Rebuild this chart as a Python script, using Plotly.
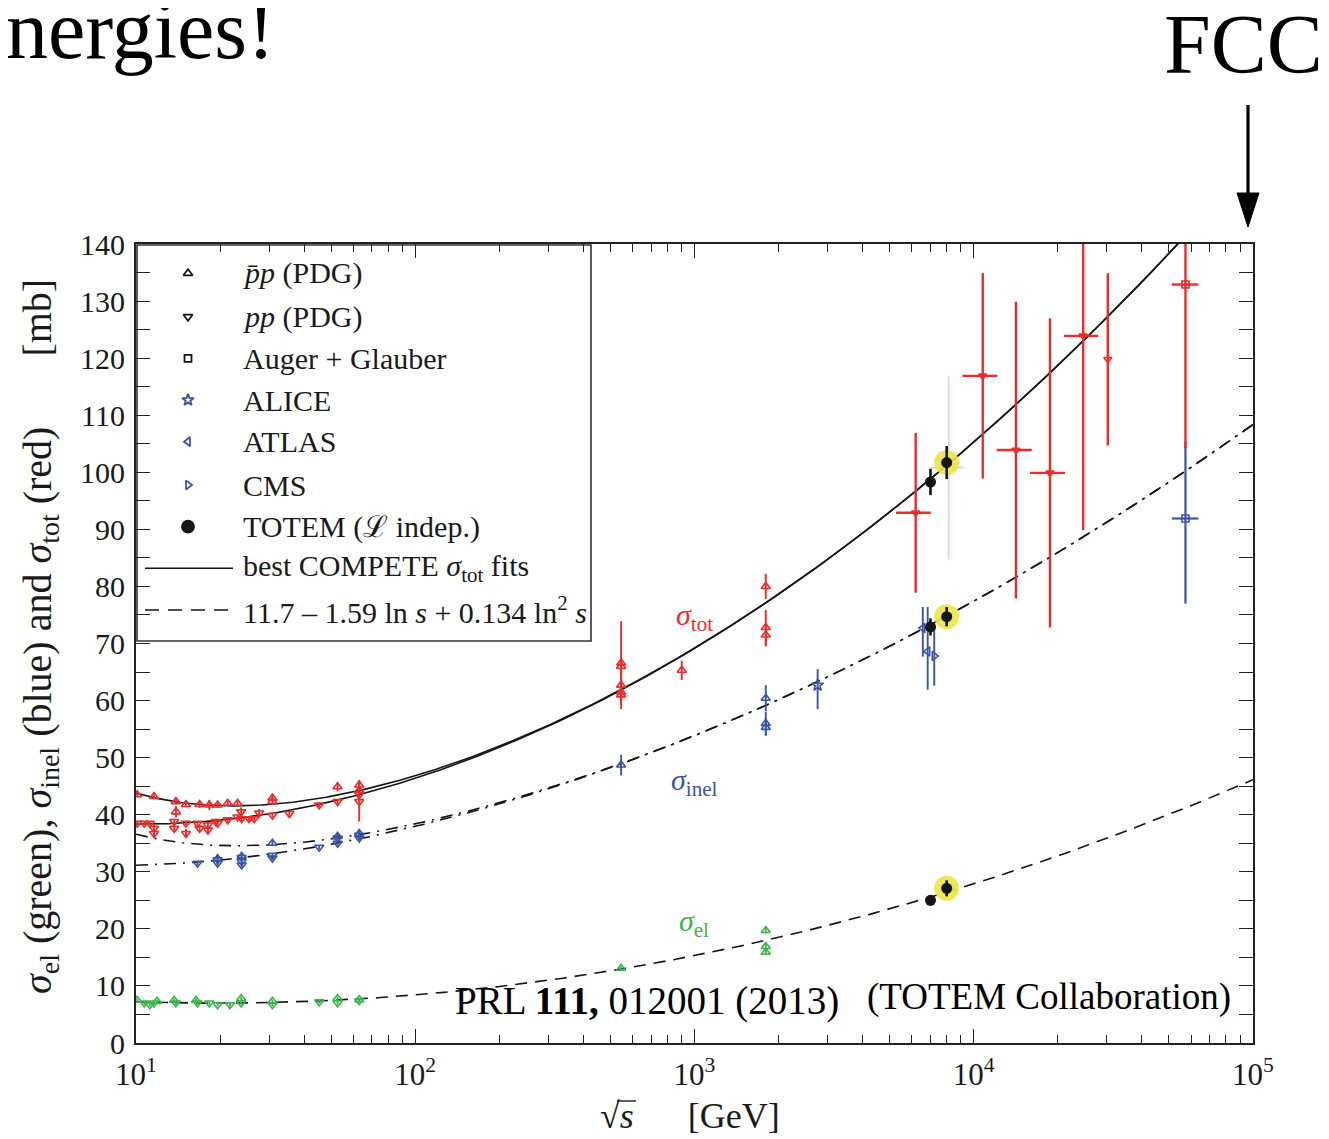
import numpy as np
import plotly.graph_objects as go

# ---------------------------------------------------------------- data
# sigma_tot (red)  -- pbar-p (PDG, up triangles)
TOT_PBARP_X = [10.1, 11.6, 13.9, 13.9, 15.1, 16.9, 18.3, 19.6, 21.3, 23.1, 30.8, 30.8,
               52.7, 63.0, 63.0, 546, 546, 546, 546, 546, 900, 1800, 1800, 1800]
TOT_PBARP_Y = [43.5, 43.2, 42.3, 40.5, 41.8, 41.8, 41.7, 41.7, 42.0, 42.0, 42.9, 42.3,
               44.9, 45.2, 44.3, 66.6, 66.0, 62.7, 61.5, 61.0, 65.3, 80.0, 72.8, 71.5]
TOT_PBARP_E = [0.4, 0.4, 0.5, 1.0, 0.4, 0.6, 0.9, 0.5, 0.4, 0.4, 0.5, 0.5,
               0.8, 0.9, 0.8, 7.3, 1.5, 1.5, 1.4, 2.5, 1.7, 2.2, 3.1, 2.0]
# sigma_tot (red)  -- pp (PDG, down triangles), accelerator energies
TOT_PP_X = [10.1, 10.7, 11.2, 11.6, 11.6, 13.7, 13.7, 15.1, 15.1, 16.6, 16.9, 18.1, 18.1, 19.3,
            19.6, 21.3, 23.1, 23.8, 23.9, 25.4, 26.5, 27.6, 30.8, 35.4, 45.3, 52.7, 63.0, 63.0]
TOT_PP_Y = [38.5, 38.5, 38.5, 37.6, 36.7, 38.8, 37.6, 38.5, 36.7, 38.5, 37.6, 38.2, 37.3, 38.8,
            38.5, 39.1, 39.6, 40.5, 39.3, 39.3, 39.3, 40.3, 39.9, 40.2, 41.7, 42.3, 43.5, 42.3]
TOT_PP_E = [0.4, 0.4, 0.4, 0.6, 0.8, 0.5, 0.6, 0.4, 0.8, 0.4, 0.6, 0.5, 0.6, 0.5,
            0.4, 0.4, 0.4, 0.8, 0.5, 0.4, 0.4, 0.7, 0.4, 0.4, 0.4, 0.4, 0.5, 3.5]
# sigma_tot (red)  -- pp from cosmic rays (down triangles with energy ranges)
CR_X = [6195, 10770, 14160, 18750, 24660, 30200]
CR_Y = [92.9, 116.9, 103.9, 99.9, 123.9, 119.8]
CR_EY = [14.0, 18.0, 26.0, 27.1, 34.0, 15.1]
CR_XLO = [5268, 9120, 12080, 15900, 21040, 30200]
CR_XHI = [7015, 12140, 16130, 21230, 27900, 30200]
# faint extra sigma_tot bar at 8 TeV
FAINT_X = [8150]
FAINT_Y = [100.8]
FAINT_E = [16.0]
FAINT_XLO = [6966]
FAINT_XHI = [9155]

# Auger + Glauber
AUGER_X = [57300]
AUGER_XLO = [51200]
AUGER_XHI = [63700]
AUGER_TOT = [132.9]
AUGER_TOT_EP = [30.0]
AUGER_TOT_EM = [28.7]
AUGER_INEL = [91.9]
AUGER_INEL_EP = [13.5]
AUGER_INEL_EM = [14.9]

# TOTEM (luminosity independent)
TOTEM_X = [7000, 8000]
TOTEM_TOT = [98.3, 101.7]
TOTEM_TOT_E = [2.3, 2.9]
TOTEM_INEL = [72.9, 74.7]
TOTEM_INEL_E = [1.5, 1.7]
TOTEM_EL = [25.0, 27.1]
TOTEM_EL_E = [0.9, 1.4]

# sigma_inel (blue)
INEL_PP_X = [16.6, 19.6, 19.6, 23.9, 23.9, 23.9, 30.8, 30.8, 45.3, 52.7, 52.7, 63.0, 63.0]
INEL_PP_Y = [31.5, 32.1, 31.5, 32.5, 31.8, 31.2, 32.9, 32.4, 34.3, 35.9, 35.0, 36.4, 35.9]
INEL_PBARP_X = [19.6, 23.9, 30.8, 52.7, 63.0, 546, 1800, 1800, 1800]
INEL_PBARP_Y = [32.3, 32.7, 35.0, 36.2, 36.7, 48.7, 60.4, 56.0, 55.3]
INEL_PBARP_E = [0.5, 0.6, 0.5, 0.5, 0.5, 1.8, 2.3, 2.0, 1.5]
ALICE_X = [2760]
ALICE_Y = [62.7]
ALICE_EP = [2.8]
ALICE_EM = [4.2]
ATLAS_X = [6570, 6840]
ATLAS_Y = [72.7, 68.6]
ATLAS_EP = [3.7, 7.8]
ATLAS_EM = [5.0, 6.7]
CMS_X = [7220]
CMS_Y = [67.8]
CMS_E = [5.2]

# sigma_el (green)
EL_PBARP_X = [10.1, 11.9, 13.7, 16.4, 23.8, 30.8, 52.7, 63.0, 546, 1800, 1800, 1800]
EL_PBARP_Y = [7.5, 7.3, 7.5, 7.5, 7.8, 7.3, 7.8, 7.6, 13.1, 19.7, 16.9, 15.9]
EL_PBARP_E = [0.3, 0.3, 0.3, 0.3, 0.3, 0.3, 0.3, 0.3, 0.3, 0.5, 0.6, 0.5]
EL_PP_X = [10.7, 11.2, 11.6, 13.9, 16.6, 18.3, 19.6, 21.7, 23.8, 30.8, 45.3, 52.7, 63.0]
EL_PP_Y = [7.0, 6.7, 7.0, 7.0, 7.0, 7.0, 6.7, 6.7, 7.0, 6.7, 7.2, 7.0, 7.4]

# fit parameters: COMPETE sigma_tot fit, elastic fit from the legend
Z_TOT, B_TOT, S0 = 35.45, 0.308, 28.94
Y1, ETA1, Y2, ETA2 = 42.53, 0.458, 33.34, 0.545
EL_C0, EL_C1, EL_C2 = 11.7, -1.59, 0.134

X_TICKS = [10, 100, 1000, 10000, 100000]
X_TICK_TEXT = ['10<sup>1</sup>', '10<sup>2</sup>', '10<sup>3</sup>', '10<sup>4</sup>', '10<sup>5</sup>']

LEGEND_LABELS = ['<i>p̄p</i> (PDG)', '<i>pp</i> (PDG)', 'Auger + Glauber', 'ALICE', 'ATLAS', 'CMS',
                 'TOTEM (ℒ indep.)', 'best COMPETE <i>σ</i><sub>tot</sub> fits',
                 '11.7 – 1.59 ln <i>s</i> + 0.134 ln<sup>2</sup> <i>s</i>']

# ---------------------------------------------------------------- style
RED, BLUE, GREEN, BLACK = '#EE2B2B', '#3A55A6', '#3CB44B', '#151515'
YELLOW = 'rgba(236,229,70,0.9)'
SERIF = 'Liberation Serif'
OFF = 8                      # page body margin of the html page
W, H = 1329 - OFF, 1139 - OFF
ML, MT = 136 - OFF, 244 - OFF
MR = W - (1253 - OFF)
MB = H - (1043 - OFF)
PW, PH = W - ML - MR, H - MT - MB


def pxx(p):
    """page pixel x -> paper coordinate"""
    return (p - OFF - ML) / PW


def pyy(p):
    """page pixel y -> paper coordinate"""
    return (H - MB - (p - OFF)) / PH


# ---------------------------------------------------------------- curves
sq = np.logspace(1, 5, 600)
s = sq ** 2
L = np.log(s)
core = Z_TOT + B_TOT * np.log(s / S0) ** 2 + Y1 * s ** (-ETA1)
tot_pbarp = core + Y2 * s ** (-ETA2)
tot_pp = core - Y2 * s ** (-ETA2)
sig_el = EL_C0 + EL_C1 * L + EL_C2 * L ** 2
inel_pbarp = tot_pbarp - sig_el
inel_pp = tot_pp - sig_el

fig = go.Figure()


def line(y, dash, width=1.6):
    fig.add_trace(go.Scatter(x=sq, y=y, mode='lines', line=dict(color=BLACK, width=width, dash=dash),
                             showlegend=False, hoverinfo='skip'))


line(tot_pbarp, 'solid')
line(tot_pp, 'solid')
line(inel_pbarp, '12px,7px,2px,7px')
line(inel_pp, '12px,7px,2px,7px')
line(sig_el, '12px,8px')


def pts(x, y, sym, color, ep=None, em=None, size=8, xlo=None, xhi=None, lw=1.6, eth=1.9, mcolor=None):
    kw = {}
    if ep is not None:
        kw['error_y'] = dict(type='data', array=ep, arrayminus=em if em is not None else ep,
                             thickness=eth, width=0, color=color)
    if xlo is not None:
        kw['error_x'] = dict(type='data', array=[h - v for h, v in zip(xhi, x)],
                             arrayminus=[v - l for v, l in zip(x, xlo)],
                             thickness=eth, width=0, color=color)
    mc = mcolor if mcolor is not None else color
    fig.add_trace(go.Scatter(x=x, y=y, mode='markers',
                             marker=dict(symbol=sym, size=size, color=mc, line=dict(color=mc, width=lw)),
                             showlegend=False, hoverinfo='skip', **kw))


# faint bar
pts(FAINT_X, FAINT_Y, 'circle', 'rgba(240,90,90,0.45)', ep=FAINT_E, xlo=FAINT_XLO, xhi=FAINT_XHI,
    size=1, eth=1.2, mcolor='rgba(0,0,0,0)')

# green
pts(EL_PP_X, EL_PP_Y, 'triangle-down-open', GREEN, ep=[0.3] * len(EL_PP_X))
pts(EL_PBARP_X, EL_PBARP_Y, 'triangle-up-open', GREEN, ep=EL_PBARP_E)
# blue
pts(INEL_PP_X, INEL_PP_Y, 'triangle-down-open', BLUE, ep=[0.4] * len(INEL_PP_X))
pts(INEL_PBARP_X, INEL_PBARP_Y, 'triangle-up-open', BLUE, ep=INEL_PBARP_E)
pts(ALICE_X, ALICE_Y, 'star-open', BLUE, ep=ALICE_EP, em=ALICE_EM, size=9)
pts(ATLAS_X, ATLAS_Y, 'triangle-left-open', BLUE, ep=ATLAS_EP, em=ATLAS_EM)
pts(CMS_X, CMS_Y, 'triangle-right-open', BLUE, ep=CMS_E)
pts(AUGER_X, AUGER_INEL, 'square-open', BLUE, ep=AUGER_INEL_EP, em=AUGER_INEL_EM,
    xlo=AUGER_XLO, xhi=AUGER_XHI, size=7, eth=2.2)
# red
pts(TOT_PP_X, TOT_PP_Y, 'triangle-down-open', RED, ep=TOT_PP_E)
pts(TOT_PBARP_X, TOT_PBARP_Y, 'triangle-up-open', RED, ep=TOT_PBARP_E)
pts(CR_X, CR_Y, 'triangle-down-open', RED, ep=CR_EY, xlo=CR_XLO, xhi=CR_XHI, size=7, eth=2.4)
pts(AUGER_X, AUGER_TOT, 'square-open', RED, ep=AUGER_TOT_EP, em=AUGER_TOT_EM,
    xlo=AUGER_XLO, xhi=AUGER_XHI, size=7, eth=2.4)

# TOTEM: yellow halo on the 8 TeV points, then black dots
halo_x = [TOTEM_X[1]] * 3
halo_y = [TOTEM_TOT[1], TOTEM_INEL[1], TOTEM_EL[1]]
fig.add_trace(go.Scatter(x=halo_x, y=halo_y, mode='markers',
                         marker=dict(symbol='circle', size=25, color=YELLOW, line=dict(width=0)),
                         showlegend=False, hoverinfo='skip'))
pts(TOTEM_X, TOTEM_TOT, 'circle', BLACK, ep=TOTEM_TOT_E, size=11, eth=2.6, lw=0)
pts(TOTEM_X, TOTEM_INEL, 'circle', BLACK, ep=TOTEM_INEL_E, size=11, eth=2.6, lw=0)
pts(TOTEM_X, TOTEM_EL, 'circle', BLACK, ep=TOTEM_EL_E, size=11, eth=2.6, lw=0)

# ---------------------------------------------------------------- custom legend
LEG_X = pxx(188)
LEG_ROWS = [273.3, 316.7, 358.3, 400.0, 441.7, 485.0, 526.7, 568.3, 610.0]
leg_syms = [('triangle-up-open', BLACK, 8), ('triangle-down-open', BLACK, 8), ('square-open', BLACK, 7),
            ('star-open', BLUE, 9), ('triangle-left-open', BLUE, 8), ('triangle-right-open', BLUE, 8),
            ('circle', BLACK, 12)]
for (sym, col, sz), row in zip(leg_syms, LEG_ROWS):
    fig.add_trace(go.Scatter(x=[LEG_X], y=[pyy(row)], xaxis='x2', yaxis='y2', mode='markers',
                             marker=dict(symbol=sym, size=sz, color=col, line=dict(color=col, width=1.8)),
                             showlegend=False, hoverinfo='skip'))

shapes = []
shapes.append(dict(type='rect', xref='paper', yref='paper', x0=pxx(137), x1=pxx(591), y0=pyy(641), y1=pyy(245),
                   line=dict(color='#333333', width=1.6), fillcolor='white', layer='below'))
shapes.append(dict(type='line', xref='paper', yref='paper', x0=pxx(145), x1=pxx(233), y0=pyy(LEG_ROWS[7]),
                   y1=pyy(LEG_ROWS[7]), line=dict(color=BLACK, width=1.6)))
shapes.append(dict(type='line', xref='paper', yref='paper', x0=pxx(145), x1=pxx(233), y0=pyy(LEG_ROWS[8]),
                   y1=pyy(LEG_ROWS[8]), line=dict(color=BLACK, width=1.6, dash='14px,9px')))
# FCC arrow
shapes.append(dict(type='line', xref='paper', yref='paper', x0=pxx(1248), x1=pxx(1248), y0=pyy(105), y1=pyy(200),
                   line=dict(color='black', width=3.2)))
shapes.append(dict(type='path', xref='paper', yref='paper',
                   path=f'M {pxx(1237)} {pyy(193)} L {pxx(1259)} {pyy(193)} L {pxx(1248)} {pyy(227)} Z',
                   fillcolor='black', line=dict(color='black', width=1)))
# overline of the square root in the x title
shapes.append(dict(type='line', xref='paper', yref='paper', x0=pxx(617), x1=pxx(636), y0=pyy(1101),
                   y1=pyy(1101), line=dict(color='#1a1a1a', width=1.4)))


def text(t, xp, yp, size, color='#1a1a1a', xa='center', ya='middle', **kw):
    return dict(text=t, x=pxx(xp), y=pyy(yp), xref='paper', yref='paper', showarrow=False,
                xanchor=xa, yanchor=ya, font=dict(family=SERIF, size=size, color=color), **kw)


ann = []
for lab, row in zip(LEGEND_LABELS, LEG_ROWS):
    ann.append(text(lab, 241, row, 30, xa='left'))

ann.append(text('<i>σ</i><sub>tot</sub>', 694, 617, 30, RED))
ann.append(text('<i>σ</i><sub>inel</sub>', 694, 782, 30, BLUE))
ann.append(text('<i>σ</i><sub>el</sub>', 694, 923, 30, GREEN))
ann.append(text('PRL <b>111,</b> 012001 (2013)', 647, 1001, 39, 'black'))
ann.append(text('(TOTEM Collaboration)', 1049, 997, 37, 'black'))
ann.append(text('<i>σ</i><sub>el</sub> (green), <i>σ</i><sub>inel</sub> (blue) and <i>σ</i><sub>tot</sub> (red)'
                '\u00a0\u00a0\u00a0\u00a0\u00a0\u00a0\u00a0[mb]',
                40, 637, 40, textangle=-90))
ann.append(text('√<i>s</i>\u00a0\u00a0\u00a0\u00a0\u00a0\u00a0[GeV]', 690, 1116, 36))
ann.append(text('FCC', 1243, 44, 84, 'black'))
ann.append(text('nergies!', 4, 29, 84, 'black', xa='left'))

MINOR_X = [m * 10 ** d for d in range(1, 5) for m in range(2, 10)]

fig.update_layout(
    width=W, height=H, autosize=False,
    margin=dict(l=ML, r=MR, t=MT, b=MB, pad=0),
    paper_bgcolor='white', plot_bgcolor='white',
    showlegend=False,
    shapes=shapes, annotations=ann,
    xaxis=dict(type='log', range=[1, 5], tickmode='array', tickvals=X_TICKS, ticktext=X_TICK_TEXT,
               ticks='inside', ticklen=14, tickwidth=1.4, tickcolor='#222', showgrid=False, zeroline=False,
               showline=True, linecolor='#222', linewidth=2, mirror='allticks', ticklabelstandoff=3,
               tickfont=dict(family=SERIF, size=31, color='#1a1a1a'),
               minor=dict(tickmode='array', tickvals=MINOR_X, ticks='inside', ticklen=8, tickwidth=1.2,
                          tickcolor='#222', showgrid=False)),
    yaxis=dict(range=[0, 140], dtick=10, ticks='inside', ticklen=14, tickwidth=1.4, tickcolor='#222',
               showgrid=False, zeroline=False, showline=True, linecolor='#222', linewidth=2,
               mirror='allticks', ticklabelstandoff=3,
               tickfont=dict(family=SERIF, size=30, color='#1a1a1a'),
               minor=dict(dtick=5, ticks='inside', ticklen=14, tickwidth=1.4, tickcolor='#222', showgrid=False)),
    xaxis2=dict(domain=[0, 1], range=[0, 1], overlaying='x', visible=False, anchor='y2'),
    yaxis2=dict(domain=[0, 1], range=[0, 1], overlaying='y', visible=False, anchor='x2'),
)

fig.write_html('out.html')
